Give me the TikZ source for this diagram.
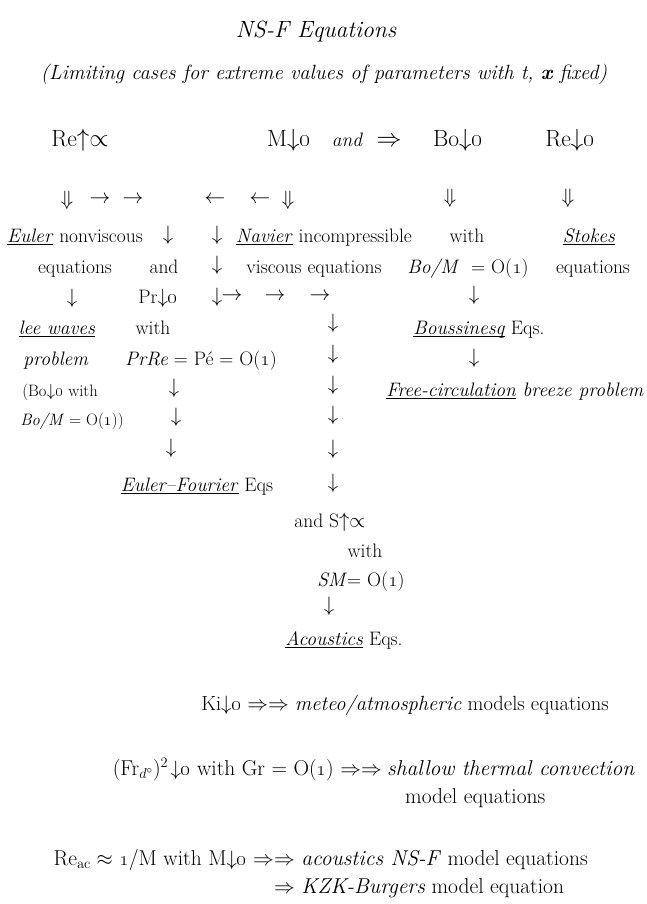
\documentclass[tikz,border=0pt]{standalone}
\usepackage{amsmath,amssymb}
\usepackage{tikz}
\usetikzlibrary{positioning}
\newcommand{\osn}[1]{\oldstylenums{#1}}
\newcommand{\uit}[1]{\underline{\smash{\textit{#1}}}}

\begin{document}
\begin{tikzpicture}[
  x=1pt,y=-1pt,
  font=\fontsize{19.5}{23}\selectfont,
  txt/.style={anchor=base,inner sep=0pt},
  arr/.style={anchor=center,inner sep=0pt,font=\fontsize{22}{26}\selectfont},
  toprow/.style={txt,font=\fontsize{23.5}{28}\selectfont},
  note/.style={txt,font=\fontsize{16.5}{19}\selectfont},
  model/.style={txt,font=\fontsize{21.5}{25}\selectfont}
]
\useasboundingbox (0,0) rectangle (647,904);

% Heading
\node[txt,font=\fontsize{23.5}{28}\selectfont\itshape] (title) at (316,38) {NS-F Equations};
\node[txt,font=\fontsize{20.6}{24}\selectfont\itshape] (subtitle) at (324,80) {(Limiting cases for extreme values of parameters with t, \textbf{x} fixed)};

% Parameter row
\node[toprow] (reinf) at (80,147) {Re$\uparrow\propto$};
\node[toprow] (mzero) at (289,147) {M$\downarrow$\osn{0}};
\node[txt,font=\fontsize{19.5}{23}\selectfont\itshape] (andtop) at (347,147) {and};
\node[toprow] (implies) at (389,147) {$\Rightarrow$};
\node[toprow] (bozero) at (458,147) {Bo$\downarrow$\osn{0}};
\node[toprow] (rezero) at (570,147) {Re$\downarrow$\osn{0}};

% Arrows under the parameters
\node[arr] (dd1) at (67,200) {$\Downarrow$};
\node[arr] (ra1) at (100,200) {$\rightarrow$};
\node[arr] (ra2) at (133,200) {$\rightarrow$};
\node[arr] (la1) at (215,200) {$\leftarrow$};
\node[arr] (la2) at (260,200) {$\leftarrow$};
\node[arr] (dd2) at (288,200) {$\Downarrow$};
\node[arr] (dd3) at (450,198) {$\Downarrow$};
\node[arr] (dd4) at (568,198) {$\Downarrow$};

% Euler / Navier / Boussinesq / Stokes
\node[txt] (euler) at (75,242) {\uit{Euler} nonviscous};
\node[arr] (da1) at (168,235) {$\downarrow$};
\node[arr] (da2) at (217,235) {$\downarrow$};
\node[txt] (navier) at (324,242) {\uit{Navier} incompressible};
\node[txt] (withbo) at (467,242) {with};
\node[txt] (stokes) at (589,242) {\uit{Stokes}};

\node[txt] (eqeuler) at (75,273) {equations};
\node[txt] (andpr) at (164,273) {and};
\node[arr] (da3) at (217,265) {$\downarrow$};
\node[txt] (eqnavier) at (314,273) {viscous equations};
\node[txt] (bom) at (468,273) {\textit{Bo/M}~ = O(\osn{1})};
\node[txt] (eqstokes) at (593,273) {equations};

\node[arr] (da4) at (72,298) {$\downarrow$};
\node[txt] (przero) at (158,303) {Pr$\downarrow$\osn{0}};
\node[arr] (da5) at (217,297) {$\downarrow$};
\node[arr] (ra3) at (232,297) {$\rightarrow$};
\node[arr] (ra4) at (275,297) {$\rightarrow$};
\node[arr] (ra5) at (320,297) {$\rightarrow$};
\node[arr] (da6) at (474,295) {$\downarrow$};

% Lee waves, Euler-Fourier, Boussinesq
\node[txt] (lee) at (57,334) {\uit{lee waves}};
\node[txt] (withpr) at (153,334) {with};
\node[txt] (bouss) at (479,334) {\uit{Boussinesq} Eqs.};

\node[txt] (problem) at (56,365) {\textit{problem}};
\node[txt] (prre) at (201,365) {\textit{PrRe} = Pé = O(\osn{1})};
\node[arr] (da7) at (474,358) {$\downarrow$};

\node[note] (bonote) at (60,396) {(Bo$\downarrow$\osn{0} with};
\node[txt] (breeze) at (515,396) {\textit{\underline{\smash{Free-circulation}} breeze problem}};
\node[note] (bomnote) at (72,425) {\textit{Bo/M} = O(\osn{1}))};

\foreach \x/\y [count=\i] in {174/388,176/417,171/448}
  \node[arr] (lft\i) at (\x,\y) {$\downarrow$};
\foreach \y [count=\i] in {323,354,385,415,449,483}
  \node[arr] (col\i) at (333,\y) {$\downarrow$};

\node[txt] (eulfour) at (197,491) {\uit{Euler--Fourier} Eqs};

% Acoustics branch
\node[txt] (sinf) at (330,527) {and S$\uparrow\propto$};
\node[txt] (withs) at (365,557) {with};
\node[txt] (sm) at (361,586) {\textit{SM}= O(\osn{1})};
\node[arr] (da8) at (329,606) {$\downarrow$};
\node[txt] (acoust) at (344,645) {\uit{Acoustics} Eqs.};

% Model equations
\node[model,font=\fontsize{20.5}{24}\selectfont] (ki) at (405,710) {Ki$\downarrow$\osn{0} $\Rightarrow\Rightarrow$\ \textit{meteo/atmospheric} models equations};
\node[model,anchor=base east] (frpre) at (382,775) {(Fr$_{d^{\circ}}$)$^{2}\!\downarrow$\osn{0} with Gr = O(\osn{1}) $\Rightarrow\Rightarrow$};
\node[model,right=5pt of frpre.base east,anchor=base west] (shallow) {\textit{shallow thermal convection}};
\node[model,anchor=base west] (frmodel) at ([shift={(18,28)}]shallow.base west) {model equations};

\node[model,anchor=base east] (reac) at (274,865) {Re$_{\mathrm{ac}}\approx$ \osn{1}/M with M$\downarrow$\osn{0} $\Rightarrow$};
\node[model,right=0pt of reac.base east,anchor=base west] (acmodel) {$\Rightarrow$ \textit{acoustics NS-F} model equations};
\node[model,anchor=base west] (kzk) at ([shift={(0,28)}]acmodel.base west) {$\Rightarrow$ \textit{KZK-Burgers} model equation};
\end{tikzpicture}
\end{document}
